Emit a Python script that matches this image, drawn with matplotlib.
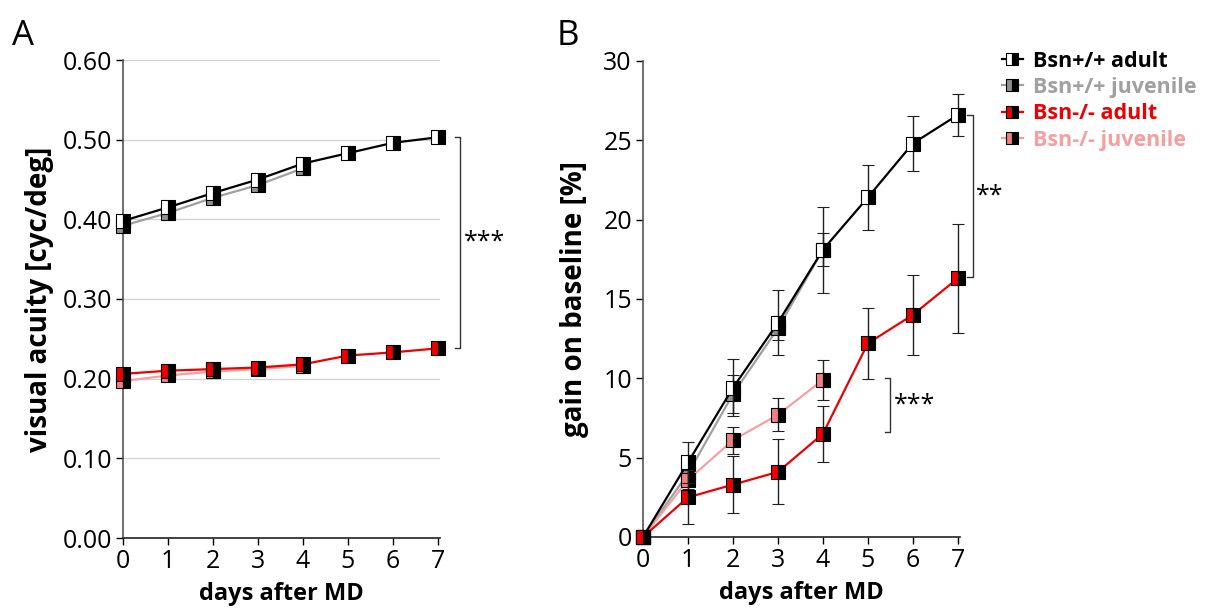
import matplotlib
matplotlib.use("Agg")
import matplotlib.pyplot as plt
from matplotlib.lines import Line2D
import numpy as np

plt.rcParams['font.family'] = ['Open Sans', 'DejaVu Sans']

days = [0, 1, 2, 3, 4, 5, 6, 7]
days_juv = [0, 1, 2, 3, 4]

series_names = ["Bsn+/+ adult", "Bsn+/+ juvenile", "Bsn-/- adult", "Bsn-/- juvenile"]
line_colors = ["#000000", "#a0a0a0", "#ee0000", "#f4a0a0"]
face_colors = ["#ffffff", "#909090", "#ee0000", "#f08080"]

# Panel A: visual acuity (cyc/deg)
acuity_wt_adult = [0.398, 0.415, 0.433, 0.450, 0.470, 0.483, 0.496, 0.503]
acuity_wt_juv = [0.392, 0.408, 0.427, 0.443, 0.464]
acuity_ko_adult = [0.206, 0.210, 0.212, 0.214, 0.218, 0.229, 0.233, 0.238]
acuity_ko_juv = [0.197, 0.204, 0.209, 0.212, 0.216]
acuity_err_adult = [0.003, 0.003, 0.003, 0.003, 0.006, 0.003, 0.003, 0.003]
acuity_err_juv = [0.003, 0.003, 0.003, 0.003, 0.004]

# Panel B: gain on baseline (%)
gain_wt_adult = [0, 4.7, 9.4, 13.5, 18.1, 21.4, 24.8, 26.6]
gain_wt_adult_err = [0, 1.3, 1.8, 2.05, 2.7, 2.05, 1.75, 1.3]
gain_wt_juv = [0, 4.0, 9.0, 13.15, 18.1]
gain_wt_juv_err = [0, 0.6, 1.2, 0.75, 1.05]
gain_ko_adult = [0, 2.5, 3.3, 4.1, 6.5, 12.2, 14.0, 16.3]
gain_ko_adult_err = [0, 1.7, 1.8, 2.05, 1.75, 2.25, 2.5, 3.45]
gain_ko_juv = [0, 3.6, 6.1, 7.7, 9.9]
gain_ko_juv_err = [0, 0.6, 0.85, 1.05, 1.25]

fig = plt.figure(figsize=(12.18, 6.13), dpi=100)
axA = fig.add_axes([123/1218, 1-538/613, 317/1218, 478/613])
axB = fig.add_axes([643/1218, 1-537/613, 317/1218, 476/613])

marker_kw = dict(marker='s', fillstyle='left', markerfacecoloralt='black',
                 markeredgecolor='black', markeredgewidth=0.8)

def plot_series(ax, x, y, err, i, z):
    ax.errorbar(x, y, yerr=err, color=line_colors[i], lw=1.6, ecolor='#202020',
                elinewidth=1.0, capsize=4.5, capthick=1.0, ms=10,
                markerfacecolor=face_colors[i], zorder=z, clip_on=False, **marker_kw)

plot_series(axA, days_juv, acuity_wt_juv, acuity_err_juv, 1, 3)
plot_series(axA, days, acuity_wt_adult, acuity_err_adult, 0, 4)
plot_series(axA, days_juv, acuity_ko_juv, acuity_err_juv, 3, 3)
plot_series(axA, days, acuity_ko_adult, acuity_err_adult, 2, 4)

plot_series(axB, days_juv, gain_wt_juv, gain_wt_juv_err, 1, 3)
plot_series(axB, days, gain_wt_adult, gain_wt_adult_err, 0, 4)
plot_series(axB, days_juv, gain_ko_juv, gain_ko_juv_err, 3, 3)
plot_series(axB, days, gain_ko_adult, gain_ko_adult_err, 2, 4)

for ax in (axA, axB):
    ax.set_xlim(0, 7.05)
    ax.set_xticks(days)
    for s in ('top', 'right'):
        ax.spines[s].set_visible(False)
    ax.spines['left'].set_color('#555555')
    ax.spines['bottom'].set_color('#222222')
    ax.spines['left'].set_linewidth(1.2)
    ax.spines['bottom'].set_linewidth(1.2)
    ax.tick_params(axis='both', labelsize=18, length=5, width=1.0, pad=3)
    ax.set_xlabel("days after MD", fontsize=17, fontweight='bold', labelpad=6)

axA.set_ylim(0, 0.6)
axA.set_yticks(np.arange(0, 0.61, 0.1))
axA.set_yticklabels([f"{v:.2f}" for v in np.arange(0, 0.61, 0.1)])
axA.yaxis.grid(True, color='#d0d0d0', lw=0.9)
axA.set_axisbelow(True)
axA.set_ylabel("visual acuity [cyc/deg]", fontsize=20, fontweight='bold', labelpad=6)

axB.set_ylim(0, 30)
axB.set_yticks([0, 5, 10, 15, 20, 25, 30])
axB.set_ylabel("gain on baseline [%]", fontsize=20, fontweight='bold', labelpad=10)

def bracket(ax, x, y0, y1, text, dx=0.12, tx=0.08, fs=18):
    ax.plot([x - dx, x, x, x - dx], [y0, y0, y1, y1], color='#333333', lw=1.0, clip_on=False)
    ax.text(x + tx, (y0 + y1) / 2, text, fontsize=fs, va='center', ha='left', clip_on=False)

bracket(axA, 7.5, 0.503, 0.239, "***")
bracket(axB, 7.33, 26.6, 16.4, "**")
bracket(axB, 5.5, 10.0, 6.6, "***")

handles = [Line2D([], [], color=line_colors[i], lw=1.6, ms=8,
                  markerfacecolor=face_colors[i], **marker_kw) for i in range(4)]
leg = fig.legend(handles, series_names, loc='upper left',
                 bbox_to_anchor=(993/1218, 1-42/613),
                 frameon=False, handlelength=1.0,
                 handletextpad=0.45, labelspacing=0.25, borderaxespad=0,
                 prop={'size': 15.5, 'weight': 'bold'})
for txt, c in zip(leg.get_texts(), line_colors):
    txt.set_color(c)

fig.text(12/1218, 1-45/613, "A", fontsize=25)
fig.text(557/1218, 1-45/613, "B", fontsize=25)

fig.savefig("out.png", dpi=100)
